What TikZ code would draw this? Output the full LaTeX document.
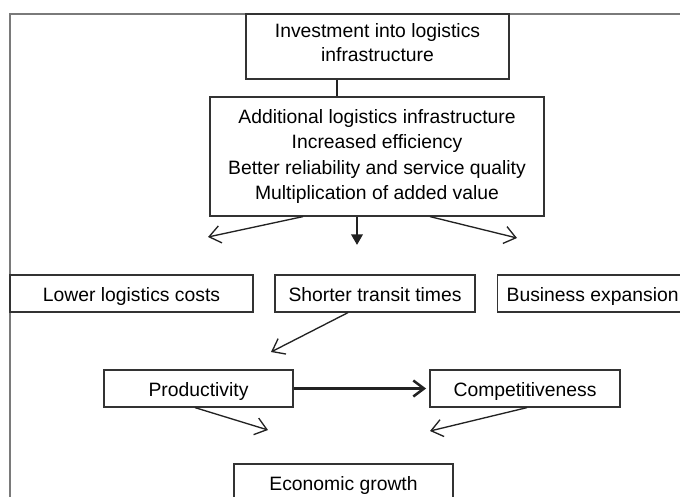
\documentclass[tikz,border=0pt]{standalone}
\usepackage{fontspec}
\setmainfont{Liberation Sans}
\usetikzlibrary{arrows.meta,calc}
\definecolor{boxgray}{HTML}{333333}
\definecolor{arrgray}{HTML}{222222}
\definecolor{framegray}{HTML}{7A7A7A}

\begin{document}
\begin{tikzpicture}[line join=miter,x=0.75pt,y=-0.75pt,
        box/.style={draw=boxgray,line width=0.9pt,inner sep=0pt,align=center,minimum height=27.75pt,text height=11.25pt,text depth=0pt,font=\fontsize{14.5}{19}\selectfont},
        thinarrow/.style={draw=arrgray,line width=1pt,-{Straight Barb[length=8.5pt,width=13pt]}},
        thickline/.style={draw=arrgray,line width=1.9pt}]
                \useasboundingbox (0,0) rectangle (680,496);
                \draw [framegray,line width=0.8pt] (10,520)-- (10,14)-- (700,14);
                \node[box,minimum width=197.25pt,minimum height=48.75pt,text height=,text depth=6pt,font=\fontsize{14.5}{18}\selectfont] (inv) at (377.5,46.5) {Investment into logistics\\infrastructure};
                \node[box,minimum width=250.5pt,minimum height=89.25pt,text height=,text depth=] (add) at (377,156.5) {Additional logistics infrastructure\\Increased efficiency\\Better reliability and service quality\\Multiplication of added value};
                \node[box,minimum width=182.25pt] (low) at (131.5,293.5) {Lower logistics costs};
                \node[box,minimum width=150pt] (sho) at (375,293.5) {Shorter transit times};
                \node[box,minimum width=142.5pt,anchor=west] (bus) at (497,293.5) {Business expansion};
                \node[box,minimum width=141.75pt] (prod) at (198.5,388.5) {Productivity};
                \node[box,minimum width=142.5pt] (comp) at (525,388.5) {Competitiveness};
                \node[box,minimum width=164.25pt] (eco) at (343.5,482.5) {Economic growth};
                \coordinate (d1) at (357,245);
                \coordinate (l1) at (208,237);
                \coordinate (r1) at (517,238);
                \coordinate (p1) at (271,352);
                \coordinate (e1) at (268,430);
                \coordinate (e2) at (430,431);
                \draw [thickline] (inv.south -| 337,0)-- (add.north -| 337,0);
                \draw [thickline,-{Triangle[length=8pt,width=8.5pt]}] (add.south -| 357,0)-- (d1);
                \draw [thinarrow] (add.south -| 303,0)-- (l1);
                \draw [thinarrow] (add.south -| 430,0)-- (r1);
                \draw [thinarrow] (sho.south -| 348,0)-- (p1);
                \draw [thickline,-{Straight Barb[length=8pt,width=12pt]},shorten >=2.5pt] (prod.east)-- (comp.west);
                \draw [thinarrow] (prod.south -| 195,0)-- (e1);
                \draw [thinarrow] (comp.south -| 527,0)-- (e2);
\end{tikzpicture}
\end{document}
